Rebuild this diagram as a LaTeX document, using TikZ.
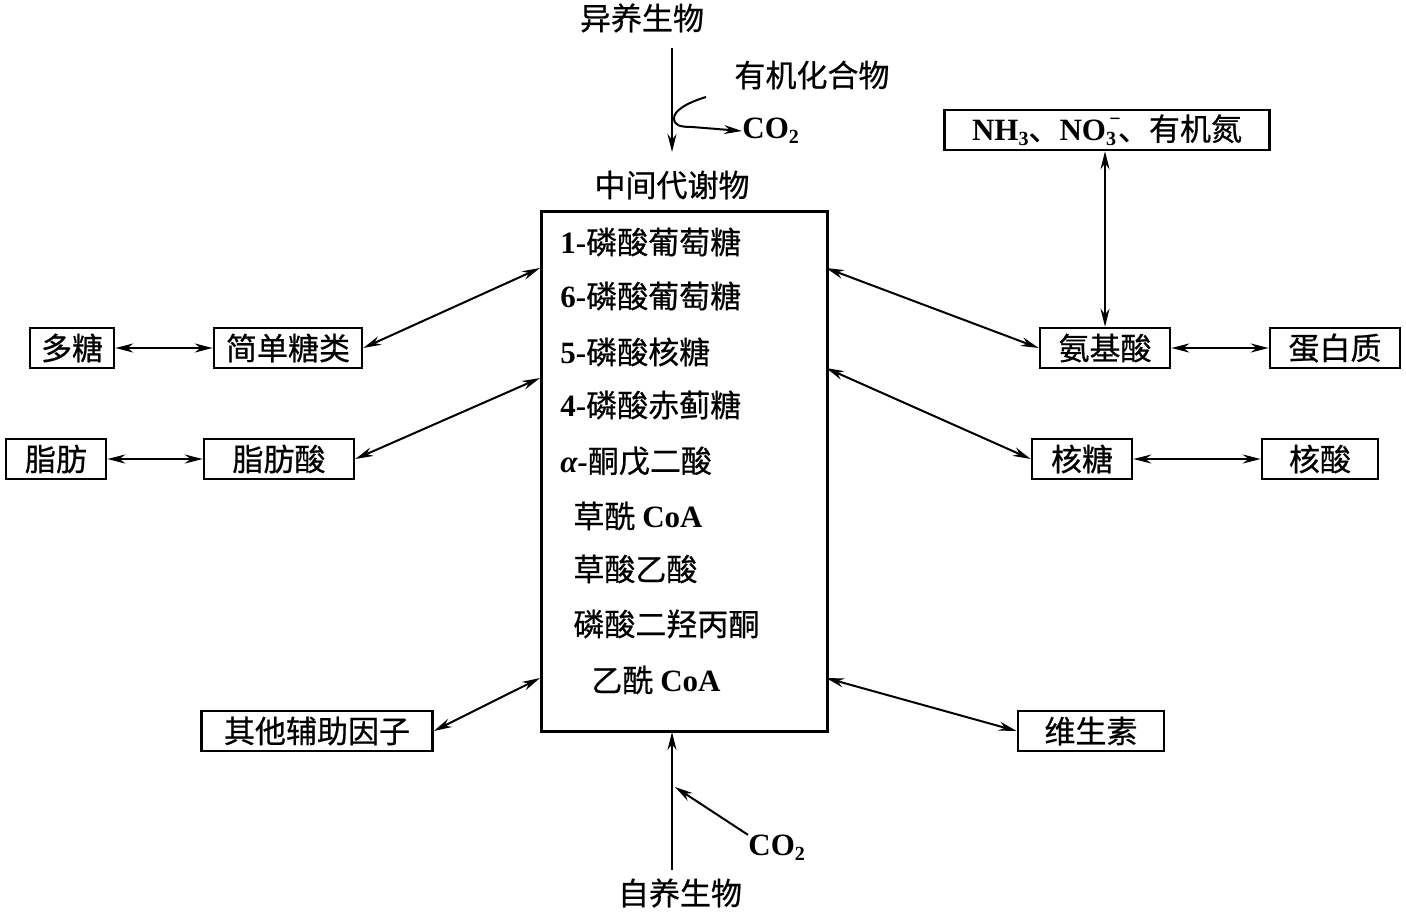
\documentclass[tikz,border=0pt]{standalone}
\usepackage{fontspec}
\setmainfont{Noto Sans CJK SC}[FakeBold=0.6]
\newfontfamily\latfont{Liberation Serif}
\usetikzlibrary{arrows.meta}
\newcommand\lt[1]{{\latfont\bfseries #1}}
\newcommand\dn[1]{\raisebox{-0.35ex}{\fontsize{10}{10}\selectfont #1}}
\newcommand\dnup[2]{\makebox[0pt][l]{\raisebox{1.05ex}{\fontsize{10}{10}\selectfont\,#2}}\raisebox{-0.35ex}{\fontsize{10}{10}\selectfont #1}}

\tikzset{
  lbl/.style={inner sep=0pt, font=\fontsize{15.5}{18}\selectfont},
  cbox/.style={draw, line width=1.3pt, minimum height=20pt, inner sep=0pt,
               font=\fontsize{15.5}{18}\selectfont},
  dbl/.style={{Stealth[length=9pt,width=4.5pt]}-{Stealth[length=9pt,width=4.5pt]}, line width=1pt},
  one/.style={-{Stealth[length=9pt,width=4.5pt]}, line width=1pt}
}

\begin{document}
\begin{tikzpicture}[x=0.5pt, y=-0.5pt]
  \useasboundingbox (0,0) rectangle (1406,915);

  % central box and its list
  \node[draw, line width=1.3pt, minimum width=143pt, minimum height=260pt,
        inner sep=0pt, anchor=north west] (mid) at (540,210) {};
  \foreach \i/\x/\y/\t in {1/560/242/{\lt{1-}磷酸葡萄糖},
                           2/560/296/{\lt{6-}磷酸葡萄糖},
                           3/560/352/{\lt{5-}磷酸核糖},
                           4/560/405/{\lt{4-}磷酸赤蓟糖},
                           5/560/461/{\lt{\itshape α-}酮戊二酸},
                           6/573/516/{草酰 \lt{CoA}},
                           7/573/569/{草酸乙酸},
                           8/573/624/{磷酸二羟丙酮},
                           9/591/680/{乙酰 \lt{CoA}}}{
      \node[lbl, anchor=west] (m\i) at (\x,\y) {\t};
    }
  \node[lbl] (midname) at (672,185) {中间代谢物};

  % top: heterotrophs
  \node[lbl] (het) at (642,18) {异养生物};
  \node[lbl] (orgc) at (812,75) {有机化合物};
  \node[lbl, anchor=west] (co2a) at (742,131) {\lt{CO\dn{2}}};
  \coordinate (hetout) at (672,48);
  \coordinate (hetin) at (672,152);
  \coordinate (orgin) at (706,97);
  \draw[one] (hetout) -- (hetin);
  \draw[one] (orgin) .. controls (686,103) and (674,111) .. (674,118)
                     .. controls (674,125) and (679,127) .. (692,127) -- (co2a.west);

  % bottom: autotrophs
  \node[lbl] (aut) at (680,893) {自养生物};
  \node[lbl, anchor=west] (co2b) at (748,848) {\lt{CO\dn{2}}};
  \coordinate (autout) at (672,870);
  \coordinate (autin) at (672,732);
  \coordinate (co2join) at (675,787);
  \draw[one] (autout) -- (autin);
  \draw[one] (co2b.north west) -- (co2join);

  % left side
  \node[cbox, minimum width=42pt] (poly) at (72,348) {多糖};
  \node[cbox, minimum width=74pt] (sugar) at (288,348) {简单糖类};
  \node[cbox, minimum width=50pt] (fat) at (56,459) {脂肪};
  \node[cbox, minimum width=75pt] (facid) at (279,459) {脂肪酸};
  \node[cbox, minimum width=115.5pt] (cofac) at (317,731) {其他辅助因子};

  % right side
  \node[cbox, minimum width=162.5pt] (nsrc) at (1107,130)
       {\lt{NH\dn{3}}、\lt{NO\dnup{3}{−}}\hspace{1pt}、有机氮};
  \node[cbox, minimum width=65pt] (amino) at (1105,348) {氨基酸};
  \node[cbox, minimum width=65pt] (prot) at (1335,348) {蛋白质};
  \node[cbox, minimum width=50pt] (ribo) at (1082,459) {核糖};
  \node[cbox, minimum width=58pt] (nacid) at (1320,459) {核酸};
  \node[cbox, minimum width=73pt] (vita) at (1091,731) {维生素};

  % ports on the central box
  \coordinate (pl1) at (540,268);
  \coordinate (pl2) at (540,378);
  \coordinate (pl3) at (540,678);
  \coordinate (pr1) at (826,268);
  \coordinate (pr2) at (826,368);
  \coordinate (pr3) at (826,678);

  \draw[dbl] (poly) -- (sugar);
  \draw[dbl] (sugar.east) -- (pl1);
  \draw[dbl] (fat) -- (facid);
  \draw[dbl] (facid.east) -- (pl2);
  \draw[dbl] (cofac.east) -- (pl3);
  \draw[dbl] (pr1) -- (amino.west);
  \draw[dbl] (amino) -- (prot);
  \draw[dbl] (nsrc.south -| amino) -- (amino.north);
  \draw[dbl] (pr2) -- (ribo.west);
  \draw[dbl] (ribo) -- (nacid);
  \draw[dbl] (pr3) -- (vita.west);
\end{tikzpicture}
\end{document}
